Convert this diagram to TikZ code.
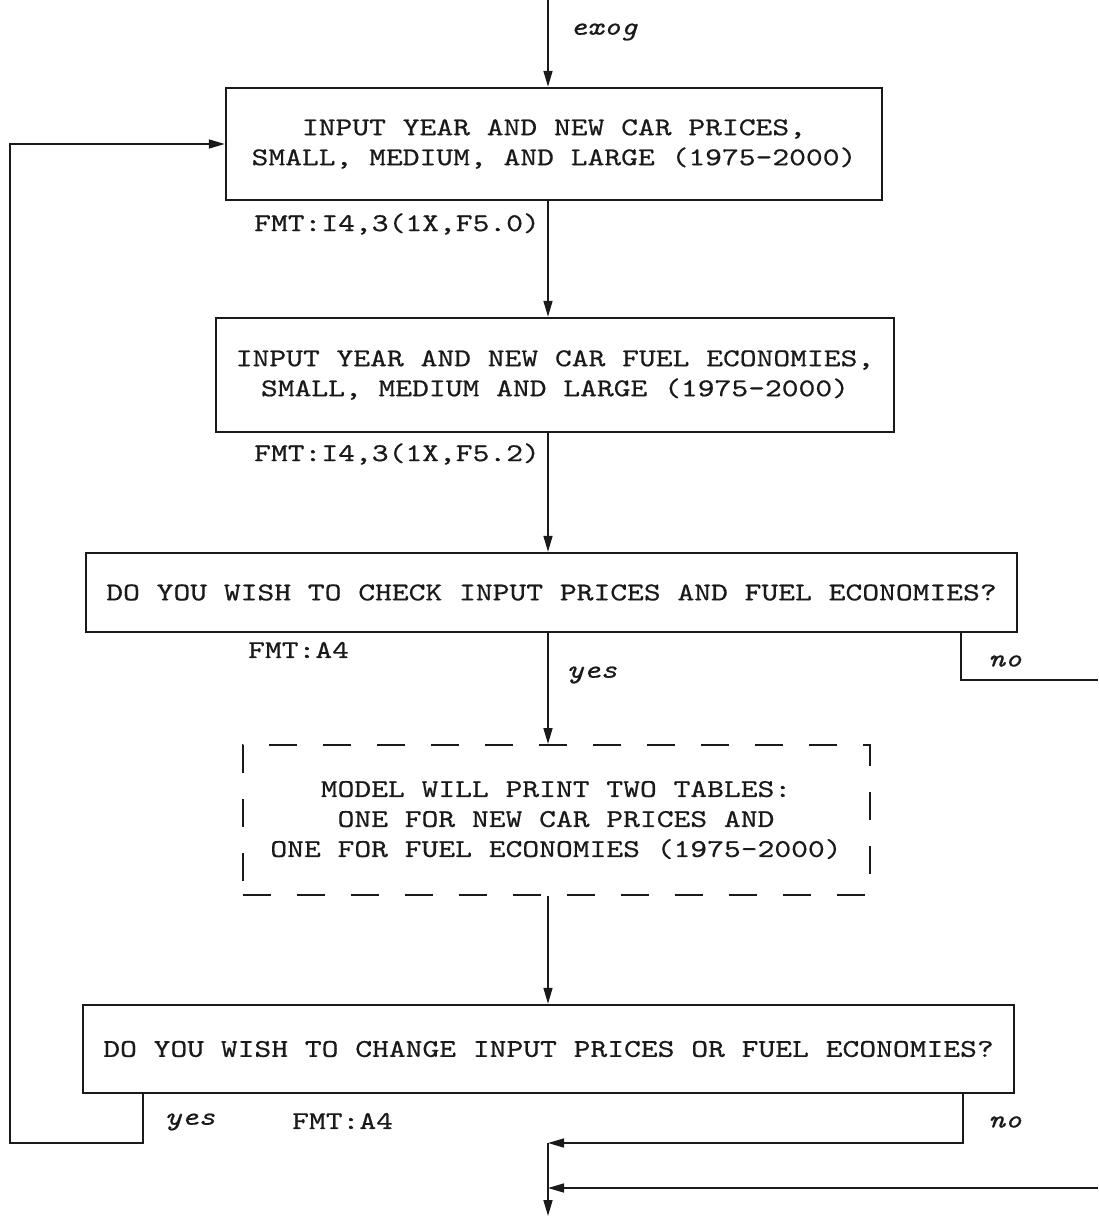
\documentclass[tikz,border=0pt]{standalone}
\usepackage{fontspec}
\usepackage{tikz}
\usetikzlibrary{arrows.meta,positioning,calc}
\newfontfamily\typew{lmmono10-regular.otf}[FakeStretch=1.25,FakeBold=0.6,ItalicFont=lmmono10-italic.otf]
\definecolor{ink}{HTML}{1A1A1A}
\tikzset{
  box/.style={rectangle, draw=ink, line width=2.4pt, align=center, inner sep=0pt,
              font=\typew\fontsize{25.6}{30}\selectfont, text=ink},
  boxdash/.style={box, line width=2pt, dash pattern=on 28pt off 26pt},
  fmt/.style={font=\typew\fontsize{25.6}{30}\selectfont, text=ink, inner sep=0pt, anchor=west},
  lbl/.style={font=\typew\itshape\fontsize{25.6}{30}\selectfont, text=ink, inner sep=0pt},
  fl/.style={-{Triangle[length=16pt,width=9pt]}, line width=1.6pt, draw=ink},
  ln/.style={line width=1.6pt, draw=ink},
}

\begin{document}
\begin{tikzpicture}[x=1pt, y=-1pt]
  \useasboundingbox (0,0) rectangle (1098,1217);
  \coordinate (top) at (548,0);
  \node[box, minimum width=656pt, minimum height=112pt] (prices) at (554,144)
    {INPUT YEAR AND NEW CAR PRICES,\\SMALL, MEDIUM, AND LARGE (1975-2000)};
  \node[box, minimum width=678pt, minimum height=114pt] (fuel) at (555,375)
    {INPUT YEAR AND NEW CAR FUEL ECONOMIES,\\SMALL, MEDIUM AND LARGE (1975-2000)};
  \node[box, minimum width=931pt, minimum height=79pt] (check) at (551.5,592.5)
    {DO YOU WISH TO CHECK INPUT PRICES AND FUEL ECONOMIES?};
  \node[boxdash, minimum width=627pt, minimum height=150pt] (tables) at (556,820)
    {MODEL WILL PRINT TWO TABLES:\\ONE FOR NEW CAR PRICES AND\\ONE FOR FUEL ECONOMIES (1975-2000)};
  \node[box, minimum width=931pt, minimum height=88pt] (change) at (548.5,1049)
    {DO YOU WISH TO CHANGE INPUT PRICES OR FUEL ECONOMIES?};

  % formats and branch labels
  \node[lbl, anchor=west] (exog) at (570,32) {exog};
  \node[fmt] (fmtp) at (254,224) {FMT:I4,3(1X,F5.0)};
  \node[fmt] (fmtf) at (254,454) {FMT:I4,3(1X,F5.2)};
  \node[fmt] (fmtc) at (248,650) {FMT:A4};
  \node[lbl] (yesc) at (592,675) {yes};
  \node[lbl] (noc) at (1005,661) {no};
  \node[fmt] (fmtg) at (292,1121) {FMT:A4};
  \node[lbl] (yesg) at (190,1122) {yes};
  \node[lbl] (nog) at (1005,1122) {no};

  % branch points
  \coordinate (noA) at (961,680);
  \coordinate (exitA) at (1098,680);
  \coordinate (entryA) at (1098,1188);
  \coordinate (noB) at (963,1143);
  \coordinate (join) at (548,1143);
  \coordinate (bottom) at (548,1216);
  \coordinate (yesB) at (143,1143);
  \coordinate (loop) at (10,1143);

  \draw[fl] (top) -- (top |- prices.north);
  \draw[fl] (prices.south -| top) -- (fuel.north -| top);
  \draw[fl] (fuel.south -| top) -- (check.north -| top);
  \draw[fl] (check.south -| top) -- (tables.north -| top);
  \draw[fl] (tables.south -| top) -- (change.north -| top);
  \draw[ln] (check.south -| noA) -- (noA) -- (exitA);
  \draw[fl] (change.south -| yesB) -- (yesB) -- (loop) |- (prices.west);
  \draw[fl] (change.south -| noB) -- (noB) -- (join);
  \draw[fl] (entryA) -- (entryA -| join);
  \draw[fl] (join) -- (bottom);
\end{tikzpicture}
\end{document}
